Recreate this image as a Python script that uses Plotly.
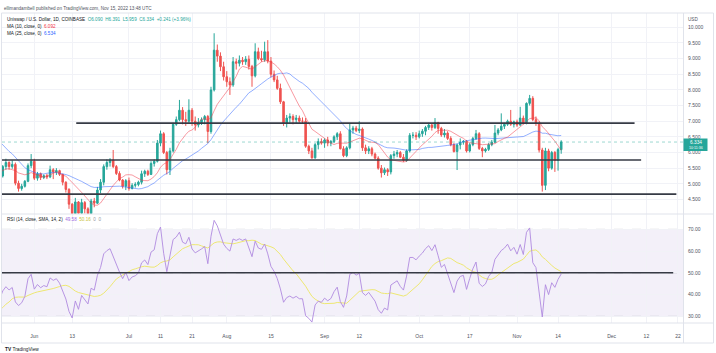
import pandas as pd
import plotly.graph_objects as go

# ---------------- data ----------------
prior_dates = pd.date_range("2022-04-14", "2022-05-21")   # only seeds MA / RSI
prior_close = [9.05, 9.20, 9.25, 9.00, 9.35, 9.55, 9.40, 9.10, 8.95, 8.90, 8.80, 8.85, 8.20, 8.45, 8.30, 7.90, 7.60,
               7.70, 7.70, 7.50, 8.00, 7.20, 6.90, 6.50, 6.00, 5.20, 5.50, 4.60, 4.90, 5.30, 5.50, 5.80, 5.40, 5.60,
               5.20, 5.40, 5.30, 5.30]

dates = pd.date_range("2022-05-22", "2022-11-15")
opens = [5.25, 5.55, 5.68, 5.55, 5.62, 5.02, 4.85, 4.92, 5.08, 5.58,
         5.72, 5.18, 5.32, 5.20, 5.26, 5.22, 5.45, 5.38, 5.42, 5.30, 5.05, 4.82, 4.35, 4.05, 4.42, 4.06, 4.40, 4.20, 4.05, 4.45,
         4.38, 4.80, 5.05, 5.55, 5.68, 5.76, 5.55, 5.33, 5.12, 4.92,
         5.10, 4.85, 4.95, 4.98, 5.05, 5.32, 5.40, 5.30, 5.65, 5.72, 6.30, 6.60, 6.00, 5.45, 6.05, 6.90, 7.05, 7.35, 7.05, 7.00,
         7.35, 7.00, 6.88, 6.95, 7.05, 7.15, 6.67, 8.00, 9.27, 9.08, 8.74,
         8.42, 8.26, 8.16, 8.90, 8.85, 8.95, 8.90, 8.98, 8.75, 8.45, 9.22, 9.00, 8.96, 9.22, 8.92, 8.50, 8.32, 8.05, 7.62, 6.95,
         7.10, 7.15, 7.05, 7.10, 7.00, 7.00, 6.20, 6.05, 5.83, 6.25, 6.35,
         6.30, 6.40, 6.30, 6.35, 6.50, 6.60, 6.12, 5.90, 6.15, 6.72, 6.78, 6.70, 6.75, 6.15, 6.05, 6.12, 5.95, 5.82, 5.50, 5.35,
         5.45, 5.38, 5.90, 5.95, 6.00, 5.85, 5.75, 6.05, 6.55, 6.55,
         6.50, 6.60, 6.68, 6.80, 6.88, 6.80, 6.95, 6.77, 6.56, 6.62, 6.45, 6.25, 6.03, 6.24, 6.33, 6.35, 6.05, 6.25, 6.45, 6.60,
         6.13, 6.05, 6.10, 6.25, 6.33, 6.62, 6.72, 6.84, 6.90, 7.00, 6.90,
         6.98, 6.88, 7.10, 6.95, 7.57, 7.73, 7.05, 6.93, 6.08, 4.95, 6.05, 5.50, 6.00, 5.75, 6.090]
highs = [5.60, 5.80, 5.72, 5.75, 5.68, 5.10, 5.00, 5.12, 5.65, 5.95,
         5.80, 5.38, 5.36, 5.30, 5.32, 5.58, 5.50, 5.50, 5.45, 5.32, 5.08, 4.86, 4.38, 4.55, 4.45, 4.52, 4.45, 4.25, 4.52, 4.55,
         4.90, 5.15, 5.62, 5.78, 5.82, 6.08, 5.60, 5.40, 5.15, 5.15,
         5.20, 5.02, 5.05, 5.10, 5.42, 5.45, 5.45, 5.72, 5.78, 6.40, 6.70, 6.65, 6.05, 6.15, 6.95, 7.15, 7.68, 7.45, 7.30, 7.70,
         7.42, 7.15, 7.10, 7.12, 7.20, 7.20, 8.10, 9.81, 9.45, 9.20, 8.90,
         8.60, 8.40, 9.05, 9.00, 9.10, 9.05, 9.08, 9.10, 8.80, 9.49, 9.35, 9.25, 9.54, 9.59, 9.05, 8.62, 8.45, 8.20, 7.65, 7.20,
         7.25, 7.22, 7.20, 7.18, 7.12, 7.10, 6.25, 6.15, 6.30, 6.45, 6.45,
         6.45, 6.50, 6.40, 6.55, 6.65, 6.68, 6.20, 6.20, 6.93, 6.85, 6.85, 7.00, 6.80, 6.25, 6.20, 6.18, 6.00, 5.88, 5.60, 5.52,
         5.50, 5.95, 6.05, 6.08, 6.05, 5.95, 6.10, 6.62, 6.65, 6.65,
         6.70, 6.75, 6.85, 6.95, 6.92, 7.10, 6.98, 6.82, 6.75, 6.68, 6.52, 6.30, 6.28, 6.45, 6.40, 6.40, 6.30, 6.50, 6.72, 6.65,
         6.18, 6.15, 6.30, 6.40, 6.88, 6.78, 7.25, 6.95, 7.05, 7.36, 7.02,
         7.05, 7.46, 7.18, 7.60, 7.84, 7.80, 7.15, 7.00, 6.15, 6.15, 6.12, 6.05, 6.05, 6.15, 6.391]
lows = [5.20, 5.45, 5.45, 5.48, 4.95, 4.75, 4.78, 4.88, 5.05, 5.50,
        5.12, 5.10, 5.12, 5.15, 5.15, 5.18, 5.15, 5.28, 5.25, 4.95, 4.72, 4.20, 3.70, 3.95, 3.75, 4.00, 4.05, 3.60, 3.95, 4.25,
        4.35, 4.70, 4.95, 5.45, 5.55, 5.50, 5.28, 5.08, 4.85, 4.80,
        4.78, 4.82, 4.88, 4.92, 4.98, 5.22, 5.25, 5.28, 5.55, 5.68, 6.20, 5.95, 5.30, 5.28, 6.00, 6.85, 7.00, 6.90, 6.85, 6.95,
        6.85, 6.70, 6.80, 6.88, 6.90, 6.30, 6.60, 7.95, 8.90, 8.60, 8.30,
        8.10, 7.84, 8.10, 8.65, 8.75, 8.80, 8.80, 8.65, 8.10, 8.40, 8.95, 8.90, 8.90, 8.85, 8.40, 8.25, 8.00, 7.55, 6.85, 6.80,
        6.95, 6.90, 6.92, 6.95, 6.92, 6.15, 5.95, 5.80, 5.80, 6.10, 6.25,
        6.15, 6.20, 6.20, 6.30, 6.40, 6.10, 5.85, 5.85, 6.10, 6.60, 6.65, 6.62, 6.05, 5.95, 5.95, 5.88, 5.78, 5.45, 5.20, 5.28,
        5.25, 5.30, 5.80, 5.85, 5.82, 5.70, 5.70, 6.00, 6.45, 6.40,
        6.45, 6.50, 6.55, 6.72, 6.70, 6.75, 6.60, 6.50, 6.48, 6.40, 6.20, 6.00, 5.44, 6.10, 6.25, 6.00, 6.00, 6.20, 6.40, 6.08,
        5.85, 6.00, 6.05, 6.20, 6.30, 6.55, 6.68, 6.75, 6.85, 6.85, 6.80,
        6.82, 6.85, 6.90, 6.90, 7.50, 7.00, 6.85, 6.00, 4.75, 4.80, 5.40, 5.45, 5.38, 5.42, 5.959]
closes = [5.55, 5.68, 5.55, 5.62, 5.02, 4.85, 4.92, 5.08, 5.58, 5.72,
          5.18, 5.32, 5.20, 5.26, 5.22, 5.45, 5.38, 5.42, 5.30, 5.05, 4.82, 4.35, 4.05, 4.42, 4.06, 4.40, 4.20, 4.05, 4.45, 4.38,
          4.80, 5.05, 5.55, 5.68, 5.76, 5.55, 5.33, 5.12, 4.92, 5.10,
          4.85, 4.95, 4.98, 5.05, 5.32, 5.40, 5.30, 5.65, 5.72, 6.30, 6.60, 6.00, 5.45, 6.05, 6.90, 7.05, 7.35, 7.05, 7.00, 7.35,
          7.00, 6.88, 6.95, 7.05, 7.15, 6.67, 8.00, 9.27, 9.08, 8.74, 8.42,
          8.26, 8.16, 8.90, 8.85, 8.95, 8.90, 8.98, 8.75, 8.45, 9.22, 9.00, 8.96, 9.22, 8.92, 8.50, 8.32, 8.05, 7.62, 6.95, 7.10,
          7.15, 7.05, 7.10, 7.00, 7.00, 6.20, 6.05, 5.83, 6.25, 6.35, 6.30,
          6.40, 6.30, 6.35, 6.50, 6.60, 6.12, 5.90, 6.15, 6.72, 6.78, 6.70, 6.75, 6.15, 6.05, 6.12, 5.95, 5.82, 5.50, 5.35, 5.45,
          5.38, 5.90, 5.95, 6.00, 5.85, 5.75, 6.05, 6.55, 6.55, 6.50,
          6.60, 6.68, 6.80, 6.88, 6.80, 6.95, 6.77, 6.56, 6.62, 6.45, 6.25, 6.03, 6.24, 6.33, 6.35, 6.05, 6.25, 6.45, 6.60, 6.13,
          6.05, 6.10, 6.25, 6.33, 6.62, 6.72, 6.84, 6.90, 7.00, 6.90, 6.98,
          6.88, 7.10, 6.95, 7.57, 7.73, 7.05, 6.93, 6.08, 4.95, 6.05, 5.50, 6.00, 5.75, 6.093, 6.334]

support_levels = [6.94, 5.76, 4.67]
support_starts = ["2022-06-14 07:00", "2022-05-01", "2022-05-01"]
support_ends = ["2022-12-08 06:00", "2022-12-10 08:00", "2022-12-21 12:00"]
rsi_level = 50
rsi_line_end = "2022-12-20 12:00"
last_price = 6.334

tick_dates = ["2022-06-01", "2022-06-13", "2022-07-01", "2022-07-11", "2022-07-21", "2022-08-01", "2022-08-15",
              "2022-09-01", "2022-09-12", "2022-10-01", "2022-10-17", "2022-11-01", "2022-11-14", "2022-12-01",
              "2022-12-12", "2022-12-22"]
tick_text = ["Jun", "13", "Jul", "11", "21", "Aug", "15", "Sep", "12", "Oct", "17", "Nov", "14", "Dec", "12", "22"]
price_ticks = [4.5, 5.0, 5.5, 6.0, 6.5, 7.0, 7.5, 8.0, 8.5, 9.0, 9.5, 10.0]
rsi_ticks = [30, 40, 50, 60, 70]

# ---------------- indicators ----------------
all_close = pd.Series(prior_close + closes, index=prior_dates.append(dates))
ma10 = all_close.rolling(10).mean()
ma25 = all_close.rolling(25).mean()
delta = all_close.diff()
up = delta.clip(lower=0).ewm(alpha=1 / 14, adjust=False).mean()
dn = (-delta.clip(upper=0)).ewm(alpha=1 / 14, adjust=False).mean()
rsi = 100 - 100 / (1 + up / dn)
rsi_ma = rsi.rolling(14).mean()
show = all_close.index >= pd.Timestamp("2022-05-12")

# ---------------- layout geometry ----------------
W, H = 716, 353
ML, MR, MT, MB = 2, 33, 13, 30
PW, PH = W - ML - MR, H - MT - MB
SPLIT = (323 - 214) / PH
FONT = "Liberation Sans, Arial, sans-serif"
GRID = "#f1f2f7"
BORDER = "#e0e3eb"


def PX(x):
    return (x - ML) / PW


def PY(y):
    return (MT + PH - y) / PH


GREEN, RED = "#26a69a", "#ef5350"

fig = go.Figure()
fig.add_trace(go.Scatter(x=all_close.index[show], y=ma25[show], mode="lines",
                         line=dict(color="rgba(41,98,255,0.5)", width=1), xaxis="x", yaxis="y", hoverinfo="skip"))
fig.add_trace(go.Scatter(x=all_close.index[show], y=ma10[show], mode="lines",
                         line=dict(color="rgba(242,54,69,0.5)", width=1), xaxis="x", yaxis="y", hoverinfo="skip"))
fig.add_trace(go.Candlestick(x=dates, open=opens, high=highs, low=lows, close=closes,
                             increasing=dict(line=dict(color=GREEN, width=1), fillcolor=GREEN),
                             decreasing=dict(line=dict(color=RED, width=1), fillcolor=RED),
                             whiskerwidth=0, xaxis="x", yaxis="y", hoverinfo="skip"))
fig.add_trace(go.Scatter(x=all_close.index[show], y=rsi_ma[show], mode="lines",
                         line=dict(color="#eee872", width=1), xaxis="x2", yaxis="y2", hoverinfo="skip"))
fig.add_trace(go.Scatter(x=all_close.index[show], y=rsi[show], mode="lines",
                         line=dict(color="#b08ae0", width=0.9), xaxis="x2", yaxis="y2", hoverinfo="skip"))

x_range = ["2022-05-21 18:15", "2022-12-23 14:30"]
axis_font = dict(family=FONT, size=5, color="#50535e")

shapes = []
# RSI band
shapes.append(dict(type="rect", xref="paper", yref="y2", x0=0, x1=1, y0=30, y1=70,
                   fillcolor="rgba(126,87,194,0.09)", line=dict(width=0), layer="below"))
for lv in [70, 50, 30]:
    shapes.append(dict(type="line", xref="paper", yref="y2", x0=0, x1=1, y0=lv, y1=lv,
                       line=dict(color="rgba(120,123,134,0.4)", width=0.8, dash="dash"), layer="below"))
# current price dotted line
shapes.append(dict(type="line", xref="paper", yref="y", x0=0, x1=1, y0=last_price, y1=last_price,
                   line=dict(color="rgba(38,166,154,0.45)", width=1, dash="dot")))
# drawn support / resistance lines
for lv, s, e in zip(support_levels, support_starts, support_ends):
    shapes.append(dict(type="line", xref="x", yref="y", x0=s, x1=e, y0=lv, y1=lv,
                       line=dict(color="#363a45", width=1.6)))
shapes.append(dict(type="line", xref="x2", yref="y2", x0="2022-05-01", x1=rsi_line_end, y0=rsi_level, y1=rsi_level,
                   line=dict(color="#363a45", width=1.6)))
# frame and separators
shapes.append(dict(type="rect", xref="paper", yref="paper", x0=PX(1.5), x1=PX(713.5), y0=PY(343), y1=PY(13),
                   line=dict(color=BORDER, width=1)))
shapes.append(dict(type="line", xref="paper", yref="paper", x0=PX(1.5), x1=PX(713.5), y0=PY(214), y1=PY(214),
                   line=dict(color=BORDER, width=1)))
shapes.append(dict(type="line", xref="paper", yref="paper", x0=PX(1.5), x1=PX(713.5), y0=PY(323), y1=PY(323),
                   line=dict(color=BORDER, width=1)))
shapes.append(dict(type="line", xref="paper", yref="paper", x0=PX(683.5), x1=PX(683.5), y0=PY(343), y1=PY(13),
                   line=dict(color=BORDER, width=1)))
# last price label
shapes.append(dict(type="rect", xref="paper", yref="paper", x0=PX(683.5), x1=PX(707.5), y0=PY(151), y1=PY(138.5),
                   fillcolor=GREEN, line=dict(width=0)))


def ann(x, y, text, size=5, color="#131722", xanchor="left"):
    return dict(x=PX(x), y=PY(y), xref="paper", yref="paper", text=text, showarrow=False,
                xanchor=xanchor, yanchor="middle", borderpad=0,
                font=dict(family=FONT, size=size, color=color))


annotations = [
    ann(3, 9, "ellimandambell published on TradingView.com, Nov 15, 2022 13:48 UTC", 4.6, "#50535e"),
    ann(6, 19.5, "Uniswap / U.S. Dollar, 1D, COINBASE  <span style='color:#26a69a'>O6.090  H6.391  L5.959  "
                 "C6.334  +0.241 (+3.96%)</span>", 4.6),
    ann(6, 26.5, "MA (10, close, 0)  <span style='color:#f23645'>6.092</span>", 4.6),
    ann(6, 33, "MA (25, close, 0)  <span style='color:#2962ff'>6.534</span>", 4.6),
    ann(6, 219, "RSI (14, close, SMA, 14, 2)  <span style='color:#9c6ade'>49.58</span>  "
                "<span style='color:#c9c23a'>50.16</span>  <span style='color:#9598a1'>0  0</span>", 4.6),
    ann(687, 19.5, "USD", 4.6, "#50535e"),
    ann(695.5, 142.4, "6.334", 4.8, "white", "center"),
    ann(695.5, 147.9, "10:11:36", 3.6, "white", "center"),
    ann(4, 349, "<b>TV</b> TradingView", 4.8, "#131722"),
]

fig.update_layout(
    width=W, height=H, margin=dict(l=ML, r=MR, t=MT, b=MB),
    paper_bgcolor="white", plot_bgcolor="white", showlegend=False,
    shapes=shapes, annotations=annotations,
    xaxis=dict(domain=[0, 1], anchor="y", range=x_range, type="date", tickvals=tick_dates, ticktext=tick_text,
               showticklabels=False, showgrid=True, gridcolor=GRID, gridwidth=1, zeroline=False,
               rangeslider=dict(visible=False), fixedrange=True),
    xaxis2=dict(domain=[0, 1], anchor="y2", matches="x", range=x_range, type="date", tickvals=tick_dates,
                ticktext=tick_text, showgrid=True, gridcolor=GRID, gridwidth=1, zeroline=False,
                ticks="outside", ticklen=8, tickcolor="rgba(0,0,0,0)", tickfont=axis_font),
    yaxis=dict(domain=[SPLIT, 1], anchor="x", side="right", range=[4.035, 10.457], tickvals=price_ticks,
               tickformat=".3f", showgrid=True, gridcolor=GRID, zeroline=False, tickfont=axis_font,
               ticks="outside", ticklen=3, tickcolor="rgba(0,0,0,0)"),
    yaxis2=dict(domain=[0, SPLIT], anchor="x2", side="right", range=[26.92, 77.03], tickvals=rsi_ticks,
                tickformat=".2f", showgrid=True, gridcolor=GRID, zeroline=False, tickfont=axis_font,
                ticks="outside", ticklen=3, tickcolor="rgba(0,0,0,0)"),
)

fig.write_html("out.html")
